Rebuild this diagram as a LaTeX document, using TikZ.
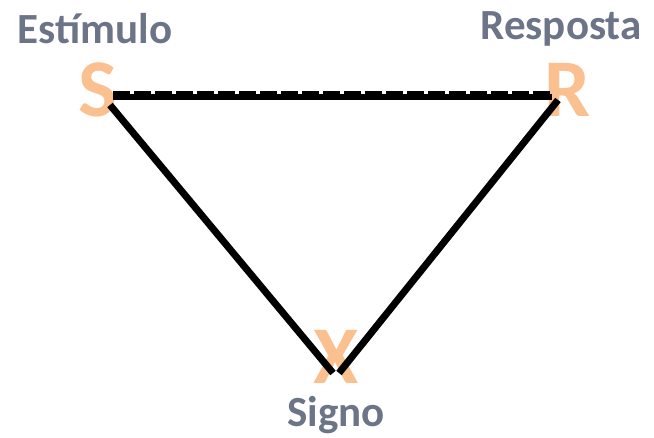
\documentclass[tikz,border=0pt]{standalone}
\usepackage{fontspec}
\setmainfont{Carlito}
\usetikzlibrary{calc}
\definecolor{peach}{HTML}{FAC090}
\definecolor{slate}{HTML}{6C7488}
\begin{document}
\begin{tikzpicture}[x=1pt, y=-1pt]
\tikzset{letter/.style={inner sep=0pt, text=peach, font=\bfseries\fontsize{82}{88}\selectfont},
  caption/.style={inner sep=0pt, text=slate, font=\bfseries\fontsize{43}{48}\selectfont},
  edge/.style={line width=7pt, black}}
\useasboundingbox (0,0) rectangle (654,437);
% letters of the triangle
\node[letter] (S) at (98,90) {S};
\node[letter] (R) at (568,90) {R};
\node[letter] (X) at (336,357) {X};
% captions
\node[caption] (stim) at (95,29) {Estímulo};
\node[caption] (resp) at (561,29) {Resposta};
\node[caption] (sign) at (336,415) {Signo};
% top link: solid with a toothed edge
\draw[line width=6pt] ($(S)+(15,7)$) -- ($(R)+(-16,7)$);
\draw[line width=5pt, dash pattern=on 17pt off 4pt] ($(S)+(15,3)$) -- ($(R)+(-16,3)$);
% sides
\draw[edge] ($(S)+(12,15)$) -- ($(X)+(-3,16)$);
\draw[edge] ($(R)+(-10,10)$) -- ($(X)+(3,16)$);
\end{tikzpicture}
\end{document}
